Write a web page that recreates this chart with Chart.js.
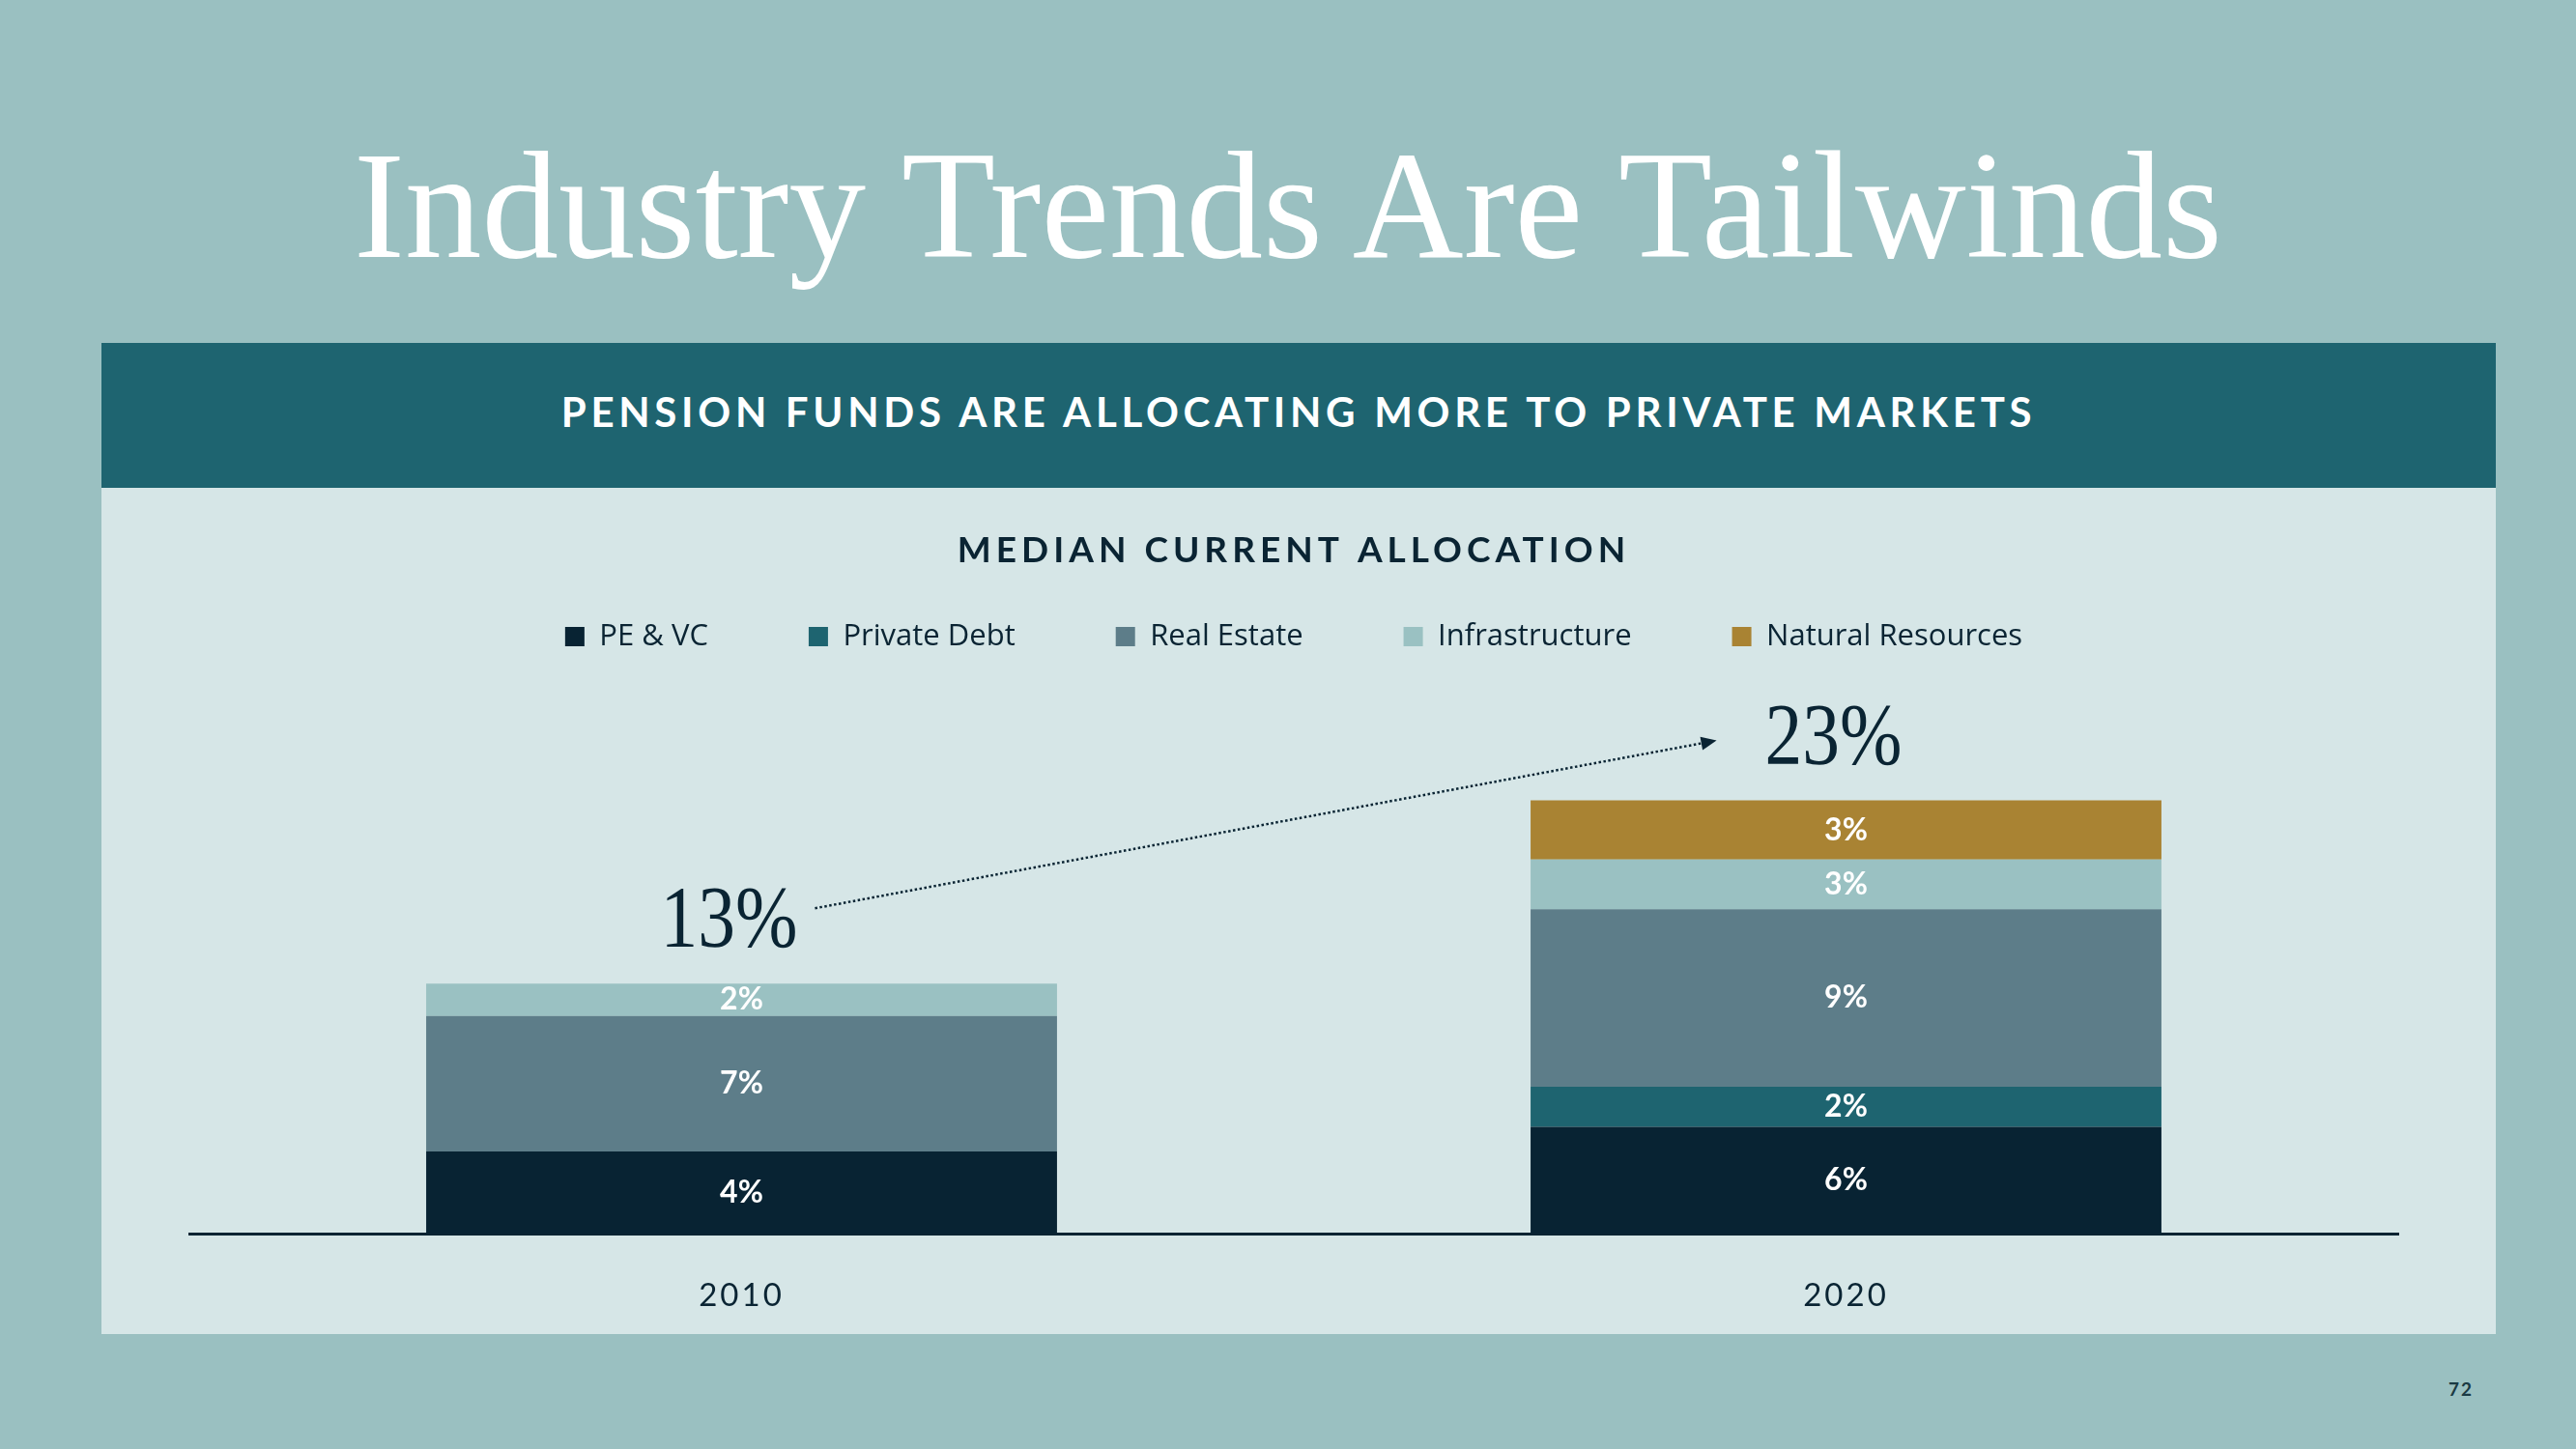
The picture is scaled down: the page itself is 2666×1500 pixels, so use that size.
<!DOCTYPE html>
<html>
<head>
<meta charset="utf-8">
<script src="https://cdn.jsdelivr.net/npm/chart.js@4.4.1/dist/chart.umd.min.js"></script>
<style>
  html, body { margin: 0; padding: 0; }
  body {
    width: 2666px; height: 1500px; overflow: hidden; position: relative;
    background: #9ac0c1; font-family: Lato, "Noto Sans", sans-serif;
  }
  #title {
    position: absolute; left: 0; top: 133px; width: 2666px; text-align: center;
    font-family: "Liberation Serif", serif; font-size: 159px; line-height: 1;
    color: #ffffff; font-weight: 400;
  }
  #band {
    position: absolute; left: 105px; top: 355px; width: 2478px; height: 150px;
    background: #1e6470; color: #ffffff; display: flex; align-items: center; justify-content: center;
    font-weight: 700; font-size: 42px; letter-spacing: 4.7px; box-sizing: border-box; padding-bottom: 8px;
  }
  #panel {
    position: absolute; left: 105px; top: 505px; width: 2478px; height: 876px; background: #d6e6e7;
  }
  #page {
    position: absolute; left: 2520px; top: 1426px; width: 54px; text-align: center;
    font-size: 19px; font-weight: 700; color: #1a3a44; letter-spacing: 2px; line-height: 24px;
  }
</style>
</head>
<body>
<div id="title">Industry Trends Are Tailwinds</div>
<div id="band">PENSION FUNDS ARE ALLOCATING MORE TO PRIVATE MARKETS</div>
<div id="panel"><canvas id="chart"></canvas></div>
<div id="page">72</div>
<script>
document.addEventListener("DOMContentLoaded", function () {
    // data (percent of portfolio)
    const years = ["2010", "2020"];
    const peVc = [4.3, 5.6];
    const privateDebt = [null, 2.1];
    const realEstate = [7.1, 9.3];
    const infrastructure = [1.7, 2.6];
    const naturalResources = [null, 3.1];

    const seriesNames = ["PE & VC", "Private Debt", "Real Estate", "Infrastructure", "Natural Resources"];
    const seriesColors = ["#082333", "#1e6470", "#5d7d89", "#9ac1c2", "#a98333"];
    const seriesValues = [peVc, privateDebt, realEstate, infrastructure, naturalResources];

    const ink = "#0a2433";

    // letter spacing for pieces chart.js draws itself
    function wrapSpacing(obj, method, spacing) {
        if (!obj || obj["_spaced_" + method]) return;
        const orig = obj[method];
        obj[method] = function () {
            const ctx = this.ctx;
            ctx.save();
            ctx.letterSpacing = spacing;
            orig.apply(this, arguments);
            ctx.restore();
        };
        obj["_spaced_" + method] = true;
    }

    const spacingPlugin = {
        id: "spacing",
        afterUpdate(chart) {
            wrapSpacing(chart.titleBlock, "draw", "5px");
            wrapSpacing(chart.scales.x, "drawLabels", "3px");
        }
    };

    // value labels in the middle of each segment
    const segmentLabels = {
        id: "segmentLabels",
        afterDatasetsDraw(chart) {
            const ctx = chart.ctx;
            ctx.save();
            ctx.font = "700 32px Lato";
            ctx.fillStyle = "#ffffff";
            ctx.textAlign = "center";
            ctx.textBaseline = "middle";
            chart.data.datasets.forEach((ds, di) => {
                const meta = chart.getDatasetMeta(di);
                meta.data.forEach((bar, i) => {
                    const v = ds.data[i];
                    if (v == null) return;
                    const p = bar.getProps(["x", "y", "base"], true);
                    ctx.fillText(Math.round(v) + "%", p.x, (p.y + p.base) / 2);
                });
            });
            ctx.restore();
        }
    };

    // totals above each stack plus the dotted arrow between them
    const totalsPlugin = {
        id: "totals",
        afterDraw(chart) {
            const ctx = chart.ctx;
            const xs = chart.scales.x, ys = chart.scales.y;
            const marks = years.map((y, i) => {
                let sum = 0;
                chart.data.datasets.forEach(ds => { sum += ds.data[i] || 0; });
                return { text: Math.round(sum) + "%", x: xs.getPixelForValue(i) - 13, base: ys.getPixelForValue(sum) - 38 };
            });
            ctx.save();
            ctx.fillStyle = ink;
            ctx.textAlign = "center";
            ctx.textBaseline = "alphabetic";
            ctx.font = "400 90px 'Liberation Serif'";
            const sx = 0.86;
            marks.forEach(m => {
                m.w = ctx.measureText(m.text).width * sx;
                ctx.save();
                ctx.translate(m.x, m.base);
                ctx.scale(sx, 1);
                ctx.fillText(m.text, 0, 0);
                ctx.restore();
            });

            const a = marks[0], b = marks[1];
            const x0 = a.x + a.w / 2 + 18, y0 = a.base - 40;
            const x1 = b.x - b.w / 2 - 50, y1 = b.base - 24;
            const ang = Math.atan2(y1 - y0, x1 - x0);
            const head = 16;
            ctx.strokeStyle = ink;
            ctx.lineWidth = 2.5;
            ctx.setLineDash([2.5, 2.5]);
            ctx.beginPath();
            ctx.moveTo(x0, y0);
            ctx.lineTo(x1 - head * Math.cos(ang), y1 - head * Math.sin(ang));
            ctx.stroke();
            ctx.setLineDash([]);
            ctx.beginPath();
            ctx.moveTo(x1, y1);
            ctx.lineTo(x1 - head * Math.cos(ang) + 7 * Math.sin(ang), y1 - head * Math.sin(ang) - 7 * Math.cos(ang));
            ctx.lineTo(x1 - head * Math.cos(ang) - 7 * Math.sin(ang), y1 - head * Math.sin(ang) + 7 * Math.cos(ang));
            ctx.closePath();
            ctx.fill();
            ctx.restore();
        }
    };

    const datasets = seriesNames.map((name, i) => ({
        label: name,
        data: seriesValues[i],
        backgroundColor: seriesColors[i],
        borderWidth: 0,
        categoryPercentage: 0.8,
        barPercentage: 0.714
    }));

    new Chart(document.getElementById("chart").getContext("2d"), {
        type: "bar",
        data: { labels: years, datasets },
        plugins: [spacingPlugin, segmentLabels, totalsPlugin],
        options: {
            responsive: true,
            maintainAspectRatio: false,
            animation: false,
            events: [],
            layout: { padding: { left: 91, right: 101, top: 0, bottom: 17 } },
            plugins: {
                tooltip: { enabled: false },
                title: {
                    display: true,
                    text: "MEDIAN CURRENT ALLOCATION",
                    color: ink,
                    font: { family: "Lato", size: 37, weight: "700", lineHeight: 1.2 },
                    padding: { top: 43, bottom: -53 }
                },
                legend: {
                    display: true,
                    position: "top",
                    labels: {
                        color: ink,
                        font: { family: "Open Sans", size: 31 },
                        boxWidth: 20,
                        boxHeight: 20,
                        padding: 104
                    }
                }
            },
            scales: {
                x: {
                    stacked: true,
                    grid: { display: false, drawTicks: false },
                    border: { display: true, color: ink, width: 3 },
                    ticks: { color: ink, padding: 45, font: { family: "Lato", size: 33 } },
                    afterFit(scale) { scale.height = 87; }
                },
                y: {
                    stacked: true,
                    display: false,
                    min: 0,
                    max: 30
                }
            }
        }
    });
});
</script>
</body>
</html>
